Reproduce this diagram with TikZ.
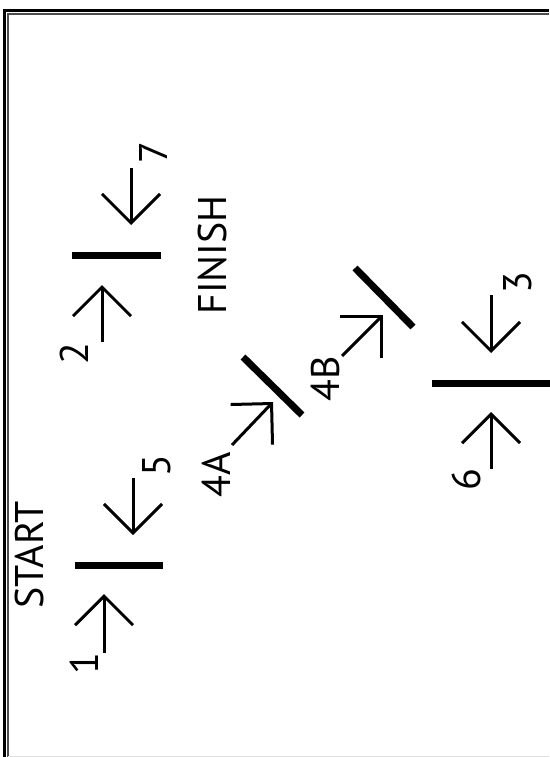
\documentclass[tikz,border=0pt]{standalone}
\usepackage{fontspec}
\setsansfont{PT Sans}
\usetikzlibrary{arrows.meta}

\begin{document}
\begin{tikzpicture}[x=1pt, y=-1pt,
    gate/.style={line width=7pt},
    pointer/.style={line width=3pt, -{Straight Barb[length=29pt, width=58pt]}},
    tag/.style={font=\sffamily\fontsize{40}{48}\selectfont, rotate=90, inner sep=0pt}]
    \useasboundingbox (0,0) rectangle (549,757);

    % frame
    \draw[line width=3pt] (4.5,757) -- (4.5,10.5) -- (549,10.5);
    \draw[line width=1.5pt, black!70] (8,757) -- (8,14) -- (549,14);
    \draw[line width=1pt, black!12] (8,756) -- (549,756);

    % gates
    \draw[gate] (72,255) -- (161,255);
    \draw[gate] (75,565) -- (163,565);
    \draw[gate] (432,383) -- (550,383);
    \draw[gate] (243,357) -- (302,415);
    \draw[gate] (355,268) -- (413,327);

    % arrow ends
    \coordinate (t1) at (104,653);  \coordinate (h1) at (104,594);
    \coordinate (t2) at (102,342);  \coordinate (h2) at (102,285);
    \coordinate (t3) at (491,295);  \coordinate (h3) at (491,353);
    \coordinate (t4A) at (232,445); \coordinate (h4A) at (273,402);
    \coordinate (t4B) at (342,356); \coordinate (h4B) at (383,315);
    \coordinate (t5) at (133,478);  \coordinate (h5) at (133,535);
    \coordinate (t6) at (491,469);  \coordinate (h6) at (491,412);
    \coordinate (t7) at (131,168);  \coordinate (h7) at (131,225);

    \draw[pointer] (t1) -- (h1);
    \draw[pointer] (t2) -- (h2);
    \draw[pointer] (t3) -- (h3);
    \draw[pointer] (t4A) -- (h4A);
    \draw[pointer] (t4B) -- (h4B);
    \draw[pointer] (t5) -- (h5);
    \draw[pointer] (t6) -- (h6);
    \draw[pointer] (t7) -- (h7);

    % labels
    \node[tag] (n1) at (84,664) {1};
    \node[tag] (n2) at (74,354) {2};
    \node[tag] (n3) at (518,283) {3};
    \node[tag] (n4A) at (216,475) {4A};
    \node[tag] (n4B) at (325,379) {4B};
    \node[tag] (n5) at (157,466) {5};
    \node[tag] (n6) at (466,480) {6};
    \node[tag] (n7) at (153,153) {7};
    \node[tag] (start) at (29.5,555) {START};
    \node[tag] (finish) at (212,255) {FINISH};
\end{tikzpicture}
\end{document}
